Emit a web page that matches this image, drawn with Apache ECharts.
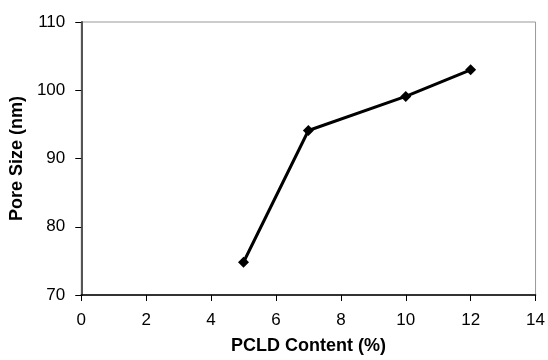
<!DOCTYPE html>
<html><head><meta charset="utf-8">
<script src="https://cdn.jsdelivr.net/npm/echarts@6/dist/echarts.min.js"></script>
<style>html,body{margin:0;padding:0;background:#fff}#c{width:548px;height:360px}</style>
</head><body><div id="c"></div>
<script>
const xValues = [5, 7, 10, 12];
const poreSize = [74.8, 94.1, 99.1, 103.0];
const xTitle = 'PCLD Content (%)';
const yTitle = 'Pore Size (nm)';

const chart = echarts.init(document.getElementById('c'));
const font = 'Liberation Sans, Arial, sans-serif';
chart.setOption({
  animation: false,
  grid: {left: 80, right: 10, top: 22, bottom: 63, show: true, borderColor: '#999', borderWidth: 1},
  xAxis: {
    type: 'value', min: 0, max: 14, interval: 2,
    name: xTitle, nameLocation: 'middle', nameGap: 42,
    nameTextStyle: {fontFamily: font, fontSize: 18, fontWeight: 'bold', color: '#000'},
    axisLine: {show: true, lineStyle: {color: '#000', width: 1.5}},
    axisTick: {show: true, length: 6, lineStyle: {color: '#000'}},
    axisLabel: {fontFamily: font, fontSize: 17, color: '#000', margin: 17},
    splitLine: {show: false}
  },
  yAxis: {
    type: 'value', min: 70, max: 110, interval: 10,
    name: yTitle, nameLocation: 'middle', nameGap: 52,
    nameTextStyle: {fontFamily: font, fontSize: 18, fontWeight: 'bold', color: '#000'},
    axisLine: {show: true, lineStyle: {color: '#555', width: 2}},
    axisTick: {show: true, length: 6, lineStyle: {color: '#000'}},
    axisLabel: {fontFamily: font, fontSize: 17, color: '#000', margin: 16},
    splitLine: {show: false}
  },
  series: [{
    type: 'line',
    data: xValues.map((x, i) => [x, poreSize[i]]),
    symbol: 'diamond', symbolSize: 11,
    lineStyle: {color: '#000', width: 3},
    itemStyle: {color: '#000'}
  }]
});
</script></body></html>
